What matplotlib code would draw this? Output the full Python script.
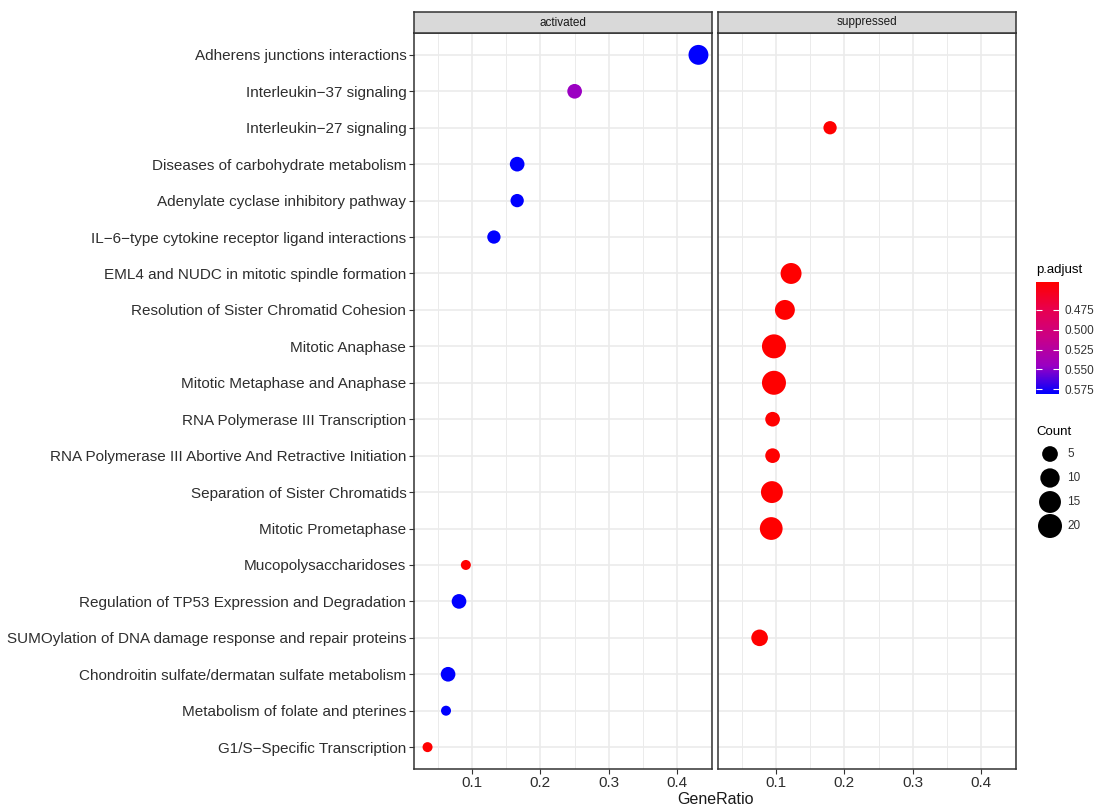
import numpy as np
import matplotlib
matplotlib.use('Agg')
import matplotlib.pyplot as plt
from matplotlib.colors import LinearSegmentedColormap, Normalize
from matplotlib.cm import ScalarMappable
from matplotlib.ticker import MultipleLocator

plt.rcParams['font.family'] = ['Liberation Sans', 'DejaVu Sans']

# enriched pathways, top to bottom
pathways = [
    'Adherens junctions interactions',
    'Interleukin\u221237 signaling',
    'Interleukin\u221227 signaling',
    'Diseases of carbohydrate metabolism',
    'Adenylate cyclase inhibitory pathway',
    'IL\u22126\u2212type cytokine receptor ligand interactions',
    'EML4 and NUDC in mitotic spindle formation',
    'Resolution of Sister Chromatid Cohesion',
    'Mitotic Anaphase',
    'Mitotic Metaphase and Anaphase',
    'RNA Polymerase III Transcription',
    'RNA Polymerase III Abortive And Retractive Initiation',
    'Separation of Sister Chromatids',
    'Mitotic Prometaphase',
    'Mucopolysaccharidoses',
    'Regulation of TP53 Expression and Degradation',
    'SUMOylation of DNA damage response and repair proteins',
    'Chondroitin sulfate/dermatan sulfate metabolism',
    'Metabolism of folate and pterines',
    'G1/S\u2212Specific Transcription',
]
direction = ['activated', 'activated', 'suppressed', 'activated', 'activated',
             'activated', 'suppressed', 'suppressed', 'suppressed', 'suppressed',
             'suppressed', 'suppressed', 'suppressed', 'suppressed', 'activated',
             'activated', 'suppressed', 'activated', 'activated', 'activated']
gene_ratio = [0.431, 0.250, 0.179, 0.166, 0.166, 0.132, 0.122, 0.113, 0.097, 0.097,
              0.095, 0.095, 0.094, 0.093, 0.091, 0.081, 0.076, 0.065, 0.062, 0.035]
counts = [11, 4, 3, 4, 3, 3, 13, 11, 20, 20, 4, 4, 15, 17, 2, 4, 6, 4, 2, 2]
p_adjust = [0.581, 0.545, 0.44, 0.581, 0.581, 0.581, 0.44, 0.44, 0.44, 0.44,
            0.44, 0.44, 0.44, 0.44, 0.44, 0.581, 0.44, 0.581, 0.581, 0.44]

facets = ['activated', 'suppressed']
count_breaks = [5, 10, 15, 20]
p_breaks = [0.475, 0.500, 0.525, 0.550, 0.575]

cmap = LinearSegmentedColormap.from_list(
    'padj', ['#FF0000', '#E80050', '#C90088', '#9A00C3', '#0000FF'])
norm = Normalize(min(p_adjust), max(p_adjust))

cmin, cmax = min(counts), max(counts)


def dot_size(c):
    # area scale: diameter grows with sqrt of the rescaled count
    d_px = 10 + 14 * np.sqrt((np.asarray(c, float) - cmin) / (cmax - cmin))
    return (d_px * 0.72) ** 2


W, H = 1094, 809
fig = plt.figure(figsize=(W / 100, H / 100), dpi=100)


def frac(x0, y0, x1, y1):
    return [x0 / W, 1 - y1 / H, (x1 - x0) / W, (y1 - y0) / H]


n = len(pathways)
xlo, xhi = min(gene_ratio), max(gene_ratio)
pad = 0.05 * (xhi - xlo)
edge = '#333333'
grid = '#EBEBEB'
label_col = '#2E2E2E'

for facet, (x0, x1) in zip(facets, [(414, 712), (718, 1016)]):
    ax = fig.add_axes(frac(x0, 33, x1, 769))
    idx = [i for i, d in enumerate(direction) if d == facet]
    ax.scatter([gene_ratio[i] for i in idx], idx,
               s=dot_size([counts[i] for i in idx]),
               c=[p_adjust[i] for i in idx], cmap=cmap, norm=norm,
               edgecolors='none', zorder=3)
    ax.set_xlim(xlo - pad, xhi + pad)
    ax.set_ylim(n - 1 + 0.6, -0.6)
    ax.set_yticks(range(n))
    ax.xaxis.set_minor_locator(MultipleLocator(0.05))
    ax.set_xticks([0.1, 0.2, 0.3, 0.4])
    ax.set_xticklabels(['0.1', '0.2', '0.3', '0.4'])
    ax.grid(which='major', color=grid, lw=1.2, zorder=0)
    ax.grid(which='minor', axis='x', color=grid, lw=0.7, zorder=0)
    ax.set_axisbelow(True)
    for sp in ax.spines.values():
        sp.set_color(edge)
        sp.set_linewidth(1.1)
    ax.tick_params(axis='both', which='major', length=3.5, width=0.8, color=edge,
                   labelsize=11, labelcolor=label_col, pad=2)
    ax.tick_params(axis='x', which='major', pad=1.5)
    ax.tick_params(axis='x', which='minor', length=0)
    if facet == 'activated':
        ax.set_yticklabels(pathways)
    else:
        ax.tick_params(axis='y', left=False, labelleft=False)

    # facet strip
    sax = fig.add_axes(frac(x0, 12, x1, 33))
    sax.set_facecolor('#D9D9D9')
    sax.set_xticks([])
    sax.set_yticks([])
    for sp in sax.spines.values():
        sp.set_color(edge)
        sp.set_linewidth(1.1)
    sax.text(0.5, 0.5, facet, transform=sax.transAxes, ha='center', va='center',
             fontsize=8.5, color='#1A1A1A')

fig.text((414 + 1016) / 2 / W, 1 - 799 / H, 'GeneRatio', ha='center', va='center',
         fontsize=11.5, color='#1A1A1A')

# p.adjust colour bar
fig.text(1036 / W, 1 - 270 / H, 'p.adjust', ha='left', va='center', fontsize=9.5)
cax = fig.add_axes(frac(1036, 282, 1059, 394))
cb = fig.colorbar(ScalarMappable(norm=norm, cmap=cmap), cax=cax)
cax.invert_yaxis()
cb.set_ticks(p_breaks)
cb.set_ticklabels(['%.3f' % p for p in p_breaks])
cb.outline.set_visible(False)
cax.minorticks_off()
cax.tick_params(direction='in', color='white', length=4, width=0.8,
                left=True, right=True, labelleft=False, labelright=True,
                labelsize=8.5, labelcolor='#333333', pad=4)

# Count size legend
fig.text(1036 / W, 1 - 432 / H, 'Count', ha='left', va='center', fontsize=9.5)
lax = fig.add_axes(frac(1030, 440, 1094, 540))
lax.set_xlim(1030, 1094)
lax.set_ylim(540, 440)
lax.axis('off')
key_y = 454 + 24 * np.arange(len(count_breaks))
lax.scatter([1050] * len(count_breaks), key_y, s=dot_size(count_breaks),
            color='black', edgecolors='none')
for yk, c in zip(key_y, count_breaks):
    lax.text(1067, yk, str(c), ha='left', va='center', fontsize=8.5, color='#333333')

fig.savefig('out.png', dpi=100, facecolor='white')
